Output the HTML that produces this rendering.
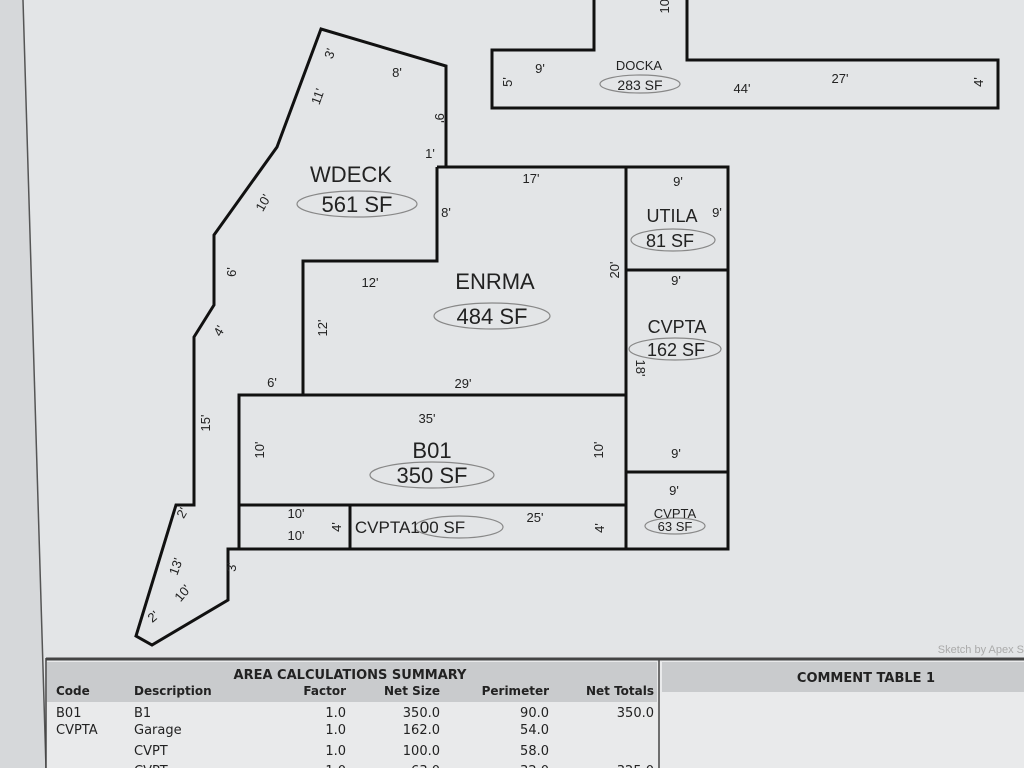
<!DOCTYPE html>
<html><head><meta charset="utf-8"><style>
html,body{margin:0;padding:0;}
body{width:1024px;height:768px;overflow:hidden;background:#e3e5e7;font-family:"Liberation Sans",sans-serif;}
</style></head><body>
<svg width="1024" height="768" viewBox="0 0 1024 768" xmlns="http://www.w3.org/2000/svg" style="position:absolute;left:0;top:0">
<rect x="0" y="0" width="1024" height="768" fill="#e3e5e7"/>
<polygon points="0,0 23,0 46,768 0,768" fill="#d6d8da"/>
<line x1="23" y1="0" x2="46" y2="768" stroke="#555" stroke-width="1.5"/>
<g fill="none" stroke="#111" stroke-width="3" stroke-linejoin="miter">
<polyline points="594,0 594,50 492,50 492,108 998,108 998,60 687,60 687,0"/>
<polyline points="437,167 446,167 446,66 321,29 277,147 214,235 214,305 194,337 194,505 176,505 136,636 152,645 228,600 228,549 280,549"/>
<polyline points="437,167 728,167 728,549 238,549"/>
<polyline points="437,167 437,261 303,261 303,395"/>
<rect x="239" y="395" width="387" height="110"/>
<line x1="626" y1="167" x2="626" y2="549"/>
<line x1="626" y1="270" x2="728" y2="270"/>
<line x1="626" y1="472" x2="728" y2="472"/>
<line x1="350" y1="505" x2="350" y2="549"/>
<line x1="239" y1="505" x2="239" y2="549"/>
</g>
<g fill="none" stroke="#888" stroke-width="1.2">
<ellipse cx="357" cy="204" rx="60" ry="13"/>
<ellipse cx="492" cy="316" rx="58" ry="13"/>
<ellipse cx="432" cy="475" rx="62" ry="13"/>
<ellipse cx="673" cy="240" rx="42" ry="11"/>
<ellipse cx="675" cy="349" rx="46" ry="11"/>
<ellipse cx="459" cy="527" rx="44" ry="11"/>
<ellipse cx="675" cy="526" rx="30" ry="8"/>
<ellipse cx="640" cy="84" rx="40" ry="9"/>
</g>
<g fill="#222" font-family="Liberation Sans, sans-serif">
<text x="351" y="182" font-size="22" text-anchor="middle">WDECK</text>
<text x="357" y="212" font-size="22" text-anchor="middle">561 SF</text>
<text x="495" y="289" font-size="22" text-anchor="middle">ENRMA</text>
<text x="492" y="324" font-size="22" text-anchor="middle">484 SF</text>
<text x="432" y="458" font-size="22" text-anchor="middle">B01</text>
<text x="432" y="483" font-size="22" text-anchor="middle">350 SF</text>
<text x="672" y="222" font-size="18" text-anchor="middle">UTILA</text>
<text x="670" y="247" font-size="18" text-anchor="middle">81 SF</text>
<text x="677" y="333" font-size="18" text-anchor="middle">CVPTA</text>
<text x="676" y="356" font-size="18" text-anchor="middle">162 SF</text>
<text x="410" y="533" font-size="17" text-anchor="middle">CVPTA100 SF</text>
<text x="675" y="518" font-size="13" text-anchor="middle">CVPTA</text>
<text x="675" y="531" font-size="13" text-anchor="middle">63 SF</text>
<text x="639" y="70" font-size="13" text-anchor="middle">DOCKA</text>
<text x="640" y="90" font-size="14" text-anchor="middle">283 SF</text>
<g font-size="13" text-anchor="middle">
<text x="540" y="73">9'</text><text x="742" y="93">44'</text><text x="840" y="83">27'</text>
<text x="531" y="183">17'</text><text x="446" y="217">8'</text><text x="370" y="287">12'</text>
<text x="463" y="388">29'</text><text x="272" y="387">6'</text><text x="427" y="423">35'</text>
<text x="678" y="186">9'</text><text x="717" y="217">9'</text><text x="676" y="285">9'</text>
<text x="676" y="458">9'</text><text x="674" y="495">9'</text><text x="535" y="522">25'</text>
<text x="296" y="518">10'</text><text x="296" y="540">10'</text>
<text x="397" y="77">8'</text><text x="430" y="158">1'</text>
</g>
<g font-size="13" text-anchor="middle">
<text transform="translate(334,55) rotate(-70)">3'</text>
<text transform="translate(512,82) rotate(-90)">5'</text>
<text transform="translate(983,82) rotate(-90)">4'</text>
<text transform="translate(669,5) rotate(-90)">10'</text>
<text transform="translate(322,98) rotate(-70)">11'</text>
<text transform="translate(435,118) rotate(90)">9'</text>
<text transform="translate(267,205) rotate(-60)">10'</text>
<text transform="translate(236,272) rotate(-90)">6'</text>
<text transform="translate(223,333) rotate(-60)">4'</text>
<text transform="translate(210,423) rotate(-90)">15'</text>
<text transform="translate(327,328) rotate(-90)">12'</text>
<text transform="translate(619,270) rotate(-90)">20'</text>
<text transform="translate(636,368) rotate(90)">18'</text>
<text transform="translate(264,450) rotate(-90)">10'</text>
<text transform="translate(603,450) rotate(-90)">10'</text>
<text transform="translate(341,527) rotate(-90)">4'</text>
<text transform="translate(604,528) rotate(-90)">4'</text>
<text transform="translate(186,515) rotate(-60)">2'</text>
<text transform="translate(180,568) rotate(-70)">13'</text>
<text transform="translate(186,596) rotate(-50)">10'</text>
<text transform="translate(236,567) rotate(-90)">3'</text>
<text transform="translate(156,620) rotate(-40)">2'</text>
</g>
<text x="1024" y="653" font-size="11" fill="#aaa" text-anchor="end">Sketch by Apex S</text>
</g>
<rect x="46" y="658" width="978" height="110" fill="#e9eaeb"/>
<line x1="46" y1="659" x2="1024" y2="659" stroke="#444" stroke-width="3"/>
<line x1="46" y1="658" x2="46" y2="768" stroke="#444" stroke-width="1.5"/>
<rect x="47" y="662" width="610" height="40" fill="#c9cbcd"/>
<rect x="662" y="662" width="362" height="30" fill="#c9cbcd"/>
<line x1="659" y1="660" x2="659" y2="768" stroke="#444" stroke-width="1.5"/>
<g font-family="DejaVu Sans, sans-serif" fill="#222" font-size="13">
<text x="350" y="679" text-anchor="middle" font-weight="bold">AREA CALCULATIONS SUMMARY</text>
<text x="866" y="682" text-anchor="middle" font-weight="bold">COMMENT TABLE 1</text>
<g font-weight="bold" font-size="12">
<text x="56" y="695">Code</text><text x="134" y="695">Description</text>
<text x="346" y="695" text-anchor="end">Factor</text><text x="440" y="695" text-anchor="end">Net Size</text>
<text x="549" y="695" text-anchor="end">Perimeter</text><text x="654" y="695" text-anchor="end">Net Totals</text>
</g>
<text x="56" y="717">B01</text><text x="134" y="717">B1</text>
<text x="346" y="717" text-anchor="end">1.0</text><text x="440" y="717" text-anchor="end">350.0</text>
<text x="549" y="717" text-anchor="end">90.0</text><text x="654" y="717" text-anchor="end">350.0</text>
<text x="56" y="734">CVPTA</text><text x="134" y="734">Garage</text>
<text x="346" y="734" text-anchor="end">1.0</text><text x="440" y="734" text-anchor="end">162.0</text>
<text x="549" y="734" text-anchor="end">54.0</text>
<text x="134" y="755">CVPT</text>
<text x="346" y="755" text-anchor="end">1.0</text><text x="440" y="755" text-anchor="end">100.0</text>
<text x="549" y="755" text-anchor="end">58.0</text>
<text x="134" y="775">CVPT</text>
<text x="346" y="775" text-anchor="end">1.0</text><text x="440" y="775" text-anchor="end">63.0</text>
<text x="549" y="775" text-anchor="end">32.0</text><text x="654" y="775" text-anchor="end">325.0</text>
</g>
</svg>
</body></html>
